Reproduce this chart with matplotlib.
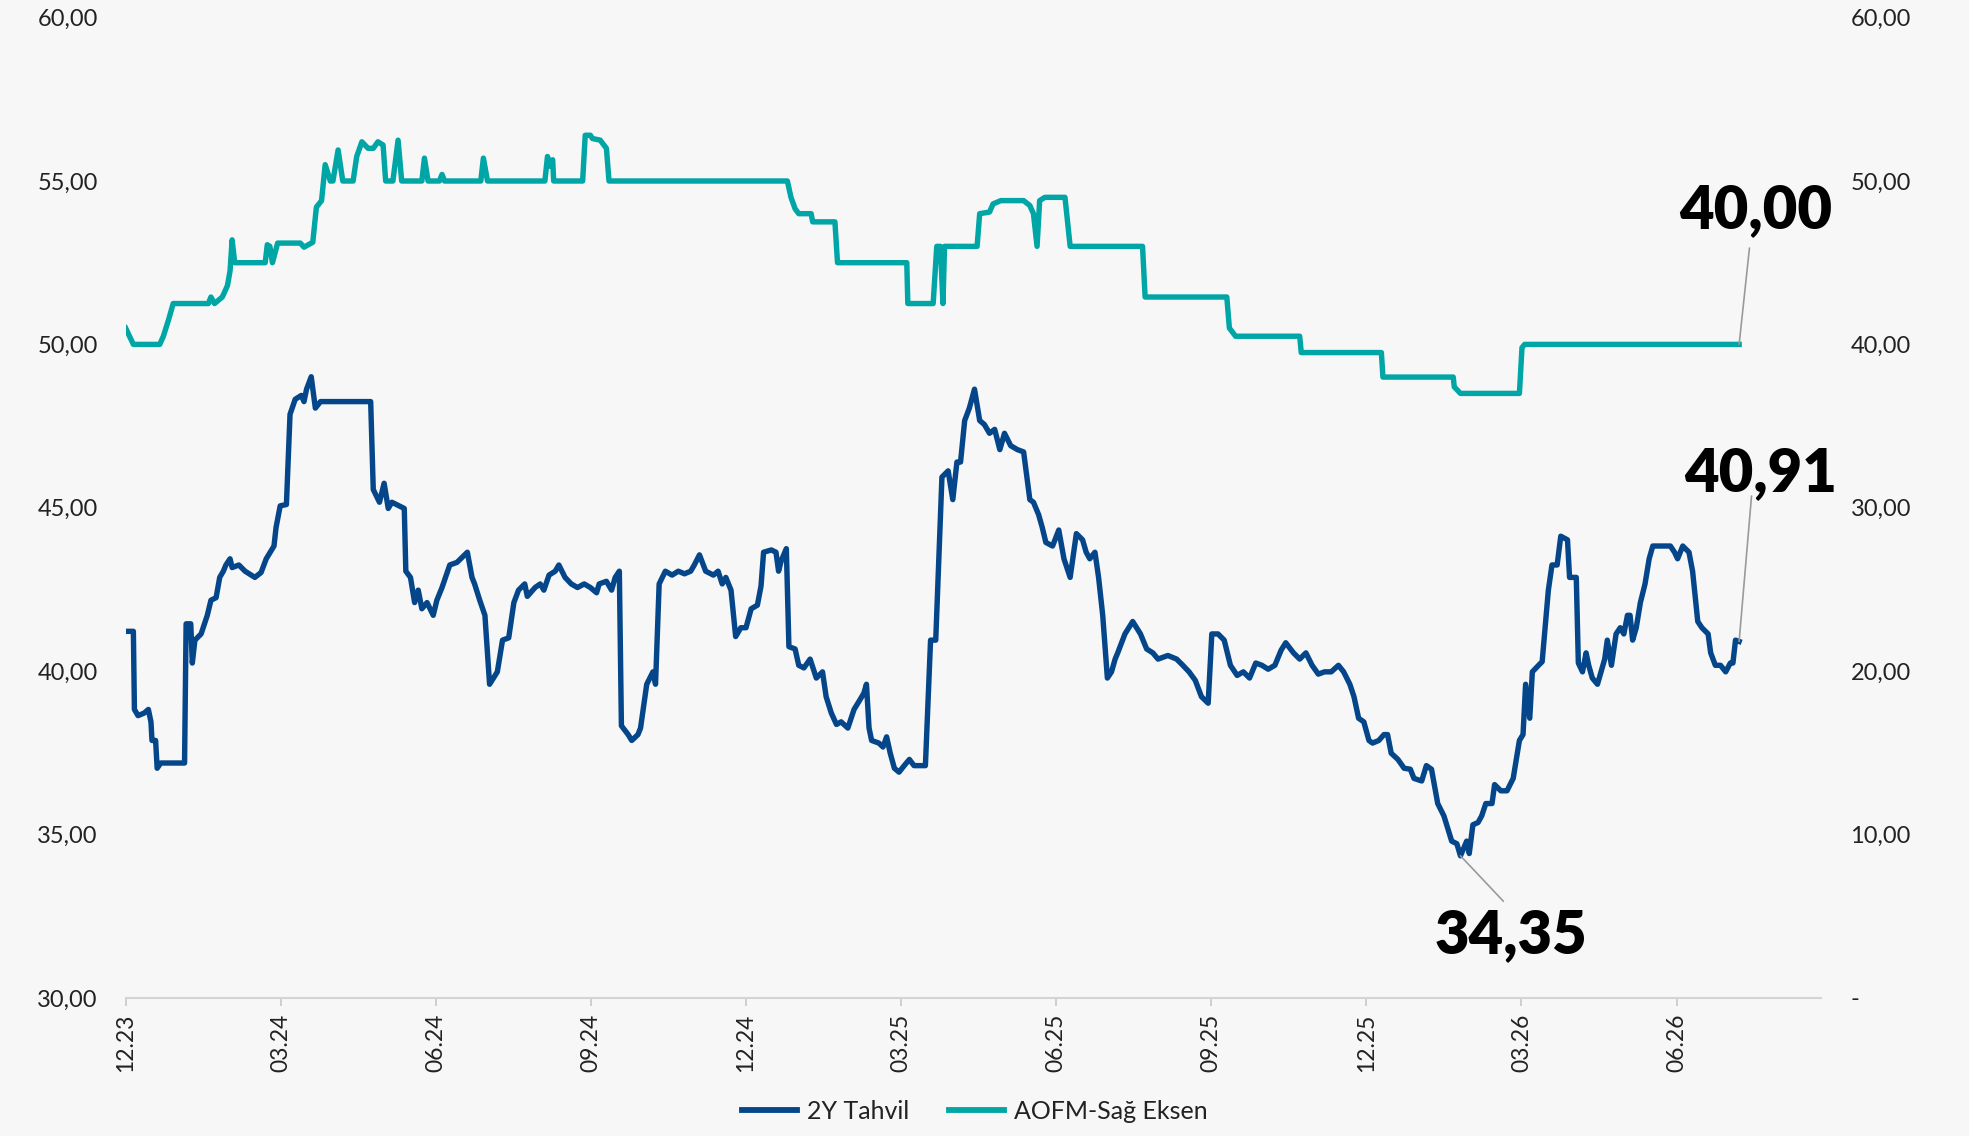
import matplotlib
matplotlib.use("Agg")
import matplotlib.pyplot as plt
from matplotlib.ticker import FixedLocator, FuncFormatter

# ---------------- data ----------------
# time in months since 2023-12 (tick "12.23" = 0)
tick_labels = ["12.23", "03.24", "06.24", "09.24", "12.24", "03.25",
               "06.25", "09.25", "12.25", "03.26", "06.26"]
tick_months = [0, 3, 6, 9, 12, 15, 18, 21, 24, 27, 30]

t_2y = [0.00, 0.15, 0.17, 0.24, 0.36, 0.44, 0.49, 0.51, 0.58, 0.61, 0.68, 1.14, 1.17, 1.26, 1.29, 1.34,
        1.46, 1.58, 1.65, 1.75, 1.82, 1.89, 1.94, 2.02, 2.06, 2.19, 2.31, 2.50, 2.62, 2.72, 2.87, 2.91,
        2.99, 3.11, 3.18, 3.28, 3.40, 3.45, 3.50, 3.59, 3.67, 3.77, 4.74, 4.79, 4.91, 5.00, 5.08, 5.15,
        5.39, 5.42, 5.51, 5.59, 5.66, 5.73, 5.83, 5.95, 6.02, 6.12, 6.27, 6.41, 6.61, 6.70, 6.75, 6.85,
        6.95, 7.04, 7.19, 7.29, 7.41, 7.51, 7.60, 7.72, 7.77, 7.92, 8.02, 8.09, 8.19, 8.31, 8.38, 8.50,
        8.62, 8.74, 8.87, 8.99, 9.11, 9.16, 9.30, 9.40, 9.47, 9.55, 9.59, 9.72, 9.79, 9.91, 9.96, 10.08,
        10.20, 10.25, 10.32, 10.44, 10.57, 10.69, 10.81, 10.93, 11.00, 11.10, 11.22, 11.37, 11.46, 11.54,
        11.61, 11.71, 11.80, 11.90, 12.00, 12.10, 12.22, 12.29, 12.34, 12.49, 12.58, 12.63, 12.68, 12.78,
        12.83, 12.95, 13.02, 13.12, 13.24, 13.36, 13.48, 13.55, 13.65, 13.75, 13.84, 13.97, 14.09, 14.21,
        14.28, 14.33, 14.38, 14.43, 14.57, 14.65, 14.72, 14.79, 14.87, 14.96, 15.06, 15.16, 15.25, 15.47,
        15.57, 15.67, 15.79, 15.91, 16.00, 16.08, 16.15, 16.23, 16.32, 16.42, 16.52, 16.61, 16.71, 16.81,
        16.91, 17.00, 17.12, 17.25, 17.37, 17.49, 17.56, 17.66, 17.73, 17.80, 17.93, 18.05, 18.15, 18.27,
        18.39, 18.51, 18.58, 18.65, 18.75, 18.82, 18.90, 18.99, 19.07, 19.14, 19.19, 19.33, 19.48, 19.63,
        19.75, 19.87, 19.97, 20.16, 20.33, 20.45, 20.57, 20.69, 20.81, 20.94, 21.01, 21.13, 21.25, 21.37,
        21.50, 21.62, 21.74, 21.86, 21.98, 22.10, 22.23, 22.35, 22.44, 22.59, 22.71, 22.83, 22.95, 23.07,
        23.19, 23.32, 23.46, 23.56, 23.68, 23.76, 23.85, 23.95, 24.05, 24.12, 24.24, 24.34, 24.41, 24.48,
        24.61, 24.73, 24.85, 24.92, 25.07, 25.16, 25.26, 25.38, 25.50, 25.65, 25.75, 25.82, 25.89, 25.94,
        25.99, 26.06, 26.16, 26.23, 26.31, 26.43, 26.48, 26.60, 26.72, 26.84, 26.96, 27.03, 27.08, 27.16,
        27.21, 27.33, 27.40, 27.52, 27.59, 27.69, 27.76, 27.89, 27.93, 28.06, 28.10, 28.18, 28.25, 28.30,
        28.37, 28.47, 28.54, 28.61, 28.66, 28.74, 28.83, 28.91, 28.98, 29.05, 29.10, 29.15, 29.22, 29.30,
        29.39, 29.47, 29.54, 29.88, 29.96, 30.02, 30.12, 30.24, 30.31, 30.36, 30.41, 30.49, 30.61, 30.66,
        30.75, 30.85, 30.95, 31.04, 31.09, 31.14, 31.21]
v_2y = [41.22, 41.22, 38.83, 38.64, 38.72, 38.83, 38.45, 37.88, 37.88, 37.03, 37.19, 37.19, 41.45, 41.45, 40.25, 40.95,
        41.14, 41.71, 42.17, 42.25, 42.87, 43.06, 43.25, 43.44, 43.17, 43.25, 43.06, 42.87, 43.02, 43.44, 43.83, 44.40,
        45.06, 45.10, 47.86, 48.32, 48.44, 48.25, 48.63, 49.01, 48.05, 48.25, 48.25, 45.56, 45.17, 45.75, 44.98, 45.17,
        44.98, 43.06, 42.87, 42.10, 42.48, 41.91, 42.10, 41.71, 42.17, 42.56, 43.25, 43.33, 43.64, 42.87, 42.67, 42.17,
        41.71, 39.60, 39.98, 40.95, 41.02, 42.10, 42.48, 42.67, 42.29, 42.56, 42.67, 42.48, 42.94, 43.06, 43.25, 42.87,
        42.67, 42.56, 42.67, 42.56, 42.40, 42.67, 42.75, 42.48, 42.87, 43.06, 38.33, 38.06, 37.88, 38.06, 38.26, 39.60,
        39.98, 39.60, 42.67, 43.06, 42.94, 43.06, 42.98, 43.06, 43.25, 43.56, 43.06, 42.94, 43.06, 42.67,
        42.87, 42.48, 41.06, 41.33, 41.33, 41.91, 42.02, 42.60, 43.64, 43.71, 43.64, 43.06, 43.37, 43.75,
        40.75, 40.68, 40.18, 40.10, 40.37, 39.79, 39.98, 39.22, 38.72, 38.37, 38.45, 38.26, 38.83, 39.14,
        39.33, 39.60, 38.26, 37.88, 37.80, 37.68, 37.99, 37.49, 37.03, 36.91, 37.11, 37.30, 37.11, 37.11,
        40.95, 40.95, 45.94, 46.13, 45.25, 46.40, 46.40, 47.67, 48.05, 48.63, 47.67, 47.55, 47.28, 47.40,
        46.78, 47.28, 46.90, 46.78, 46.71, 45.25, 45.17, 44.79, 44.40, 43.94, 43.83, 44.32, 43.44, 42.87,
        44.21, 44.02, 43.64, 43.44, 43.64, 42.87, 41.71, 39.79, 39.98, 40.37, 40.56, 41.14, 41.52, 41.14,
        40.68, 40.56, 40.37, 40.48, 40.37, 40.18, 39.98, 39.72, 39.22, 39.02, 41.14, 41.14, 40.95, 40.18,
        39.87, 39.98, 39.79, 40.25, 40.18, 40.06, 40.18, 40.64, 40.87, 40.56, 40.37, 40.56, 40.18, 39.91,
        39.98, 39.98, 40.18, 39.98, 39.60, 39.22, 38.56, 38.45, 37.88, 37.80, 37.88, 38.06, 38.06, 37.49,
        37.30, 37.03, 37.00, 36.72, 36.64, 37.11, 37.00, 35.95, 35.57, 34.80, 34.72, 34.35, 34.61, 34.80,
        34.42, 35.30, 35.37, 35.57, 35.95, 35.95, 36.53, 36.34, 36.34, 36.72, 37.88, 38.06, 39.60, 38.56,
        39.98, 40.18, 40.29, 42.48, 43.25, 43.25, 44.13, 44.02, 42.87, 42.87, 40.25, 39.98, 40.56, 40.18,
        39.79, 39.60, 39.98, 40.37, 40.95, 40.18, 41.14, 41.33, 41.14, 41.71, 41.71, 40.95, 41.33, 42.10,
        42.67, 43.44, 43.83, 43.83, 43.64, 43.44, 43.83, 43.64, 43.06, 42.29, 41.52, 41.33, 41.14, 40.56,
        40.18, 40.18, 39.98, 40.25, 40.25, 40.95, 40.91]

t_aofm = [0.00, 0.15, 0.66, 0.73, 0.83, 0.92, 1.60, 1.65, 1.72, 1.87, 1.97, 2.02, 2.06, 2.11, 2.70, 2.74,
          2.79, 2.84, 2.94, 3.38, 3.45, 3.62, 3.69, 3.79, 3.86, 3.96, 4.01, 4.11, 4.20, 4.40, 4.47, 4.57,
          4.69, 4.79, 4.88, 4.98, 5.03, 5.17, 5.27, 5.34, 5.73, 5.78, 5.85, 6.07, 6.12, 6.17, 6.87, 6.92,
          7.00, 8.11, 8.16, 8.21, 8.26, 8.28, 8.84, 8.89, 8.99, 9.03, 9.18, 9.30, 9.35, 12.80, 12.87, 12.95,
          13.02, 13.26, 13.29, 13.72, 13.77, 15.11, 15.13, 15.62, 15.69, 15.76, 15.81, 15.84, 16.47, 16.52,
          16.71, 16.78, 16.93, 17.37, 17.49, 17.56, 17.63, 17.68, 17.78, 18.17, 18.27, 19.67, 19.72, 21.30,
          21.35, 21.47, 22.71, 22.74, 24.29, 24.32, 25.68, 25.70, 25.82, 26.96, 27.01, 27.06, 31.21]
v_aofm = [41.0, 40.0, 40.0, 40.5, 41.5, 42.5, 42.5, 42.9, 42.5, 42.9, 43.6, 44.5, 46.4, 45.0, 45.0, 46.1,
          46.0, 45.0, 46.2, 46.2, 45.95, 46.25, 48.4, 48.8, 51.0, 50.0, 50.0, 51.9, 50.0, 50.0, 51.5, 52.4,
          52.0, 52.0, 52.4, 52.2, 50.0, 50.0, 52.5, 50.0, 50.0, 51.4, 50.0, 50.0, 50.4, 50.0, 50.0, 51.4,
          50.0, 50.0, 51.5, 50.9, 51.3, 50.0, 50.0, 52.8, 52.8, 52.6, 52.5, 52.0, 50.0, 50.0, 49.0, 48.3,
          48.0, 48.0, 47.5, 47.5, 45.0, 45.0, 42.5, 42.5, 46.0, 46.0, 42.5, 46.0, 46.0, 48.0,
          48.1, 48.6, 48.8, 48.8, 48.5, 48.0, 46.0, 48.8, 49.0, 49.0, 46.0, 46.0, 42.9, 42.9,
          41.0, 40.5, 40.5, 39.5, 39.5, 38.0, 38.0, 37.4, 37.0, 37.0, 39.8, 40.0, 40.0]

label_2y = "2Y Tahvil"
label_aofm = "AOFM-Sağ Eksen"
last_aofm_txt = "40,00"
last_2y_txt = "40,91"
min_2y_txt = "34,35"

# ---------------- style ----------------
C_2Y = "#05468a"
C_AOFM = "#00a5a5"
BG = "#f7f7f7"
TXT = "#222222"
FONT = ["Lato", "DejaVu Sans"]
plt.rcParams["font.family"] = FONT

fig = plt.figure(figsize=(19.69, 11.36), dpi=100, facecolor=BG)
ax = fig.add_axes([0.0638, 0.1215, 0.8612, 0.863])
ax.set_facecolor("none")
ax2 = ax.twinx()
ax2.set_facecolor("none")

l1, = ax.plot(t_2y, v_2y, color=C_2Y, lw=3.9, solid_joinstyle="round", zorder=3)
l2, = ax2.plot(t_aofm, v_aofm, color=C_AOFM, lw=3.9, solid_joinstyle="round", zorder=3)

ax.set_xlim(0, 32.8)
ax.set_ylim(30, 60)
ax2.set_ylim(0, 60)

ax.xaxis.set_major_locator(FixedLocator(tick_months))
ax.set_xticklabels(tick_labels, rotation=90, fontsize=16.5, color=TXT)
ax.yaxis.set_major_locator(FixedLocator([30, 35, 40, 45, 50, 55, 60]))
ax.yaxis.set_major_formatter(FuncFormatter(lambda v, p: f"{v:.2f}".replace(".", ",")))
ax2.yaxis.set_major_locator(FixedLocator([0, 10, 20, 30, 40, 50, 60]))
ax2.yaxis.set_major_formatter(FuncFormatter(lambda v, p: "-" if v == 0 else f"{v:.2f}".replace(".", ",")))

ax.tick_params(axis="y", length=0, pad=20, labelsize=17, labelcolor=TXT)
ax2.tick_params(axis="y", length=0, pad=21, labelsize=17, labelcolor=TXT)
ax.tick_params(axis="x", length=6, width=1.2, color="#c8c8c8", pad=5)

for a in (ax, ax2):
    for s in ("left", "right", "top", "bottom"):
        a.spines[s].set_visible(False)
ax.spines["bottom"].set_visible(True)
ax.spines["bottom"].set_color("#d4d4d4")
ax.spines["bottom"].set_linewidth(1.5)

# ---------------- annotations ----------------
gray = "#9a9a9a"
ax2.annotate("", xy=(t_aofm[-1], v_aofm[-1]), xytext=(31.41, 45.9),
             arrowprops=dict(arrowstyle="-", color=gray, lw=1.2, shrinkA=0, shrinkB=0))
ax2.text(31.53, 48.2, last_aofm_txt, ha="center", va="center", fontsize=43,
         fontweight="heavy", color="black")

ax.annotate("", xy=(t_2y[-1], v_2y[-1]), xytext=(31.45, 45.36),
            arrowprops=dict(arrowstyle="-", color=gray, lw=1.2, shrinkA=0, shrinkB=0))
ax.text(31.63, 46.05, last_2y_txt, ha="center", va="center", fontsize=43,
        fontweight="heavy", color="black")

i_min = v_2y.index(min(v_2y))
ax.annotate("", xy=(t_2y[i_min], v_2y[i_min]), xytext=(26.65, 32.96),
            arrowprops=dict(arrowstyle="-", color=gray, lw=1.2, shrinkA=0, shrinkB=0))
ax.text(26.79, 31.92, min_2y_txt, ha="center", va="center", fontsize=43,
        fontweight="heavy", color="black")

# ---------------- legend ----------------
leg = fig.legend([l1, l2], [label_2y, label_aofm], loc="center", bbox_to_anchor=(0.495, 0.022),
                 ncol=2, frameon=False, handlelength=2.2, handletextpad=0.4, columnspacing=1.6,
                 prop={"family": ["Liberation Sans Narrow", "Lato", "DejaVu Sans"], "size": 18})
for h in leg.get_lines():
    h.set_linewidth(4.2)
for t in leg.get_texts():
    t.set_color(TXT)

fig.savefig("out.png", dpi=100, facecolor=BG)
